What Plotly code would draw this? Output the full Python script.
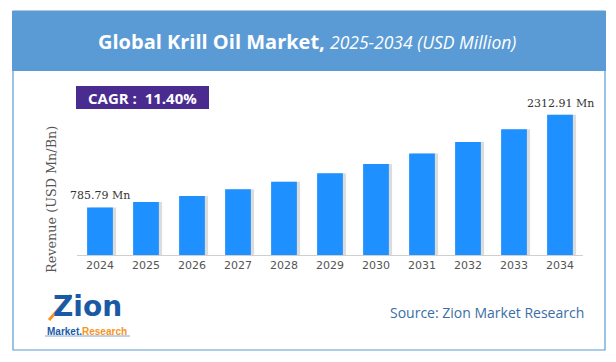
import plotly.graph_objects as go

years = ["2024", "2025", "2026", "2027", "2028", "2029", "2030", "2031", "2032", "2033", "2034"]
revenue = [785.79, 875.4, 975.2, 1086.4, 1210.2, 1348.2, 1501.9, 1673.1, 1863.8, 2076.3, 2312.91]
unit = "Mn"
cagr_label = "CAGR :  11.40%"
title_bold = "Global Krill Oil Market,"
title_italic = "2025-2034 (USD Million)"
y_title = "Revenue (USD Mn/Bn)"
source = "Source: Zion Market Research"

W, H = 616, 362
L, R, T, B = 77, 33, 95, 107
PW, PH = W - L - R, H - T - B

def px(x):
    return (x - L) / PW

def py(y):
    return (H - B - y) / PH

fig = go.Figure()
# soft drop shadow behind bars
fig.add_trace(go.Bar(x=years, y=revenue, width=0.56, offset=-0.28 + 0.07,
                     marker=dict(color="rgba(60,60,60,0.18)", line=dict(width=0)),
                     hoverinfo="skip", showlegend=False))
fig.add_trace(go.Bar(x=years, y=revenue, width=0.56, offset=-0.28,
                     marker=dict(color="#1e90ff", line=dict(width=0)),
                     showlegend=False))

fig.update_layout(
    width=W, height=H,
    margin=dict(l=L, r=R, t=T, b=B, pad=0),
    paper_bgcolor="white", plot_bgcolor="white",
    barmode="overlay",
    xaxis=dict(type="category", range=[-0.5, 10.5], showline=True, linecolor="#cfcfcf",
               linewidth=1, ticks="", showgrid=False, zeroline=False,
               tickfont=dict(family="DejaVu Sans", size=11, color="#555555")),
    yaxis=dict(range=[0, 2640], visible=False, showgrid=False, zeroline=False),
    font=dict(family="DejaVu Sans"),
)

shapes = []
# outer frame
shapes.append(dict(type="rect", xref="paper", yref="paper", x0=px(13), x1=px(605), y0=py(350), y1=py(11),
                   line=dict(color="#5b9bd5", width=1.2), fillcolor="rgba(0,0,0,0)", layer="below"))
# header band
shapes.append(dict(type="rect", xref="paper", yref="paper", x0=px(12), x1=px(606), y0=py(71), y1=py(11),
                   line=dict(width=0), fillcolor="#5b9bd5", layer="below"))
# CAGR box
shapes.append(dict(type="rect", xref="paper", yref="paper", x0=px(76), x1=px(209), y0=py(109), y1=py(86),
                   line=dict(width=0), fillcolor="#4a2c91", layer="below"))
# logo arrow and underline
shapes.append(dict(type="line", xref="paper", yref="paper", x0=px(49), x1=px(71), y0=py(320), y1=py(295),
                   line=dict(color="#f7941d", width=3)))
shapes.append(dict(type="line", xref="paper", yref="paper", x0=px(45), x1=px(130), y0=py(336), y1=py(336),
                   line=dict(color="#7fa7d6", width=1)))
fig.update_layout(shapes=shapes)

ann = []
ann.append(dict(xref="paper", yref="paper", x=px(307), y=py(42), xanchor="center", yanchor="middle",
                showarrow=False,
                text=f"<b>{title_bold}</b> <i><span style='font-size:17.5px'>{title_italic}</span></i>",
                font=dict(family="Open Sans", size=20, color="white")))
ann.append(dict(xref="paper", yref="paper", x=px(142.5), y=py(97.5), xanchor="center", yanchor="middle",
                showarrow=False, text=f"<b>{cagr_label}</b>",
                font=dict(family="Open Sans", size=15, color="white")))
ann.append(dict(xref="paper", yref="paper", x=px(51), y=py(200), xanchor="center", yanchor="middle",
                showarrow=False, text=y_title, textangle=-90,
                font=dict(family="DejaVu Serif", size=12.8, color="#555555")))
for i in (0, len(years) - 1):
    ann.append(dict(x=i, y=revenue[i], xref="x", yref="y", xanchor="center", yanchor="bottom",
                    yshift=3, showarrow=False, text=f"{revenue[i]:.2f} {unit}",
                    font=dict(family="DejaVu Serif", size=11, color="#333333")))
ann.append(dict(xref="paper", yref="paper", x=px(586), y=py(312), xanchor="right", yanchor="middle",
                showarrow=False, text=source,
                font=dict(family="Open Sans", size=14, color="#3a6ea5")))
# logo text
ann.append(dict(xref="paper", yref="paper", x=px(87), y=py(306), xanchor="center", yanchor="middle",
                showarrow=False, text="<b>Zion</b>",
                font=dict(family="DejaVu Sans", size=28, color="#1a5aa5")))
ann.append(dict(xref="paper", yref="paper", x=px(87), y=py(331), xanchor="center", yanchor="middle",
                showarrow=False,
                text="<b>Market.<span style='color:#f7941d'>Research</span></b>",
                font=dict(family="Liberation Sans", size=10, color="#1a5aa5")))
fig.update_layout(annotations=ann)

fig.write_html("out.html", config={"displayModeBar": False},
               post_script="document.body.style.margin='0';")
